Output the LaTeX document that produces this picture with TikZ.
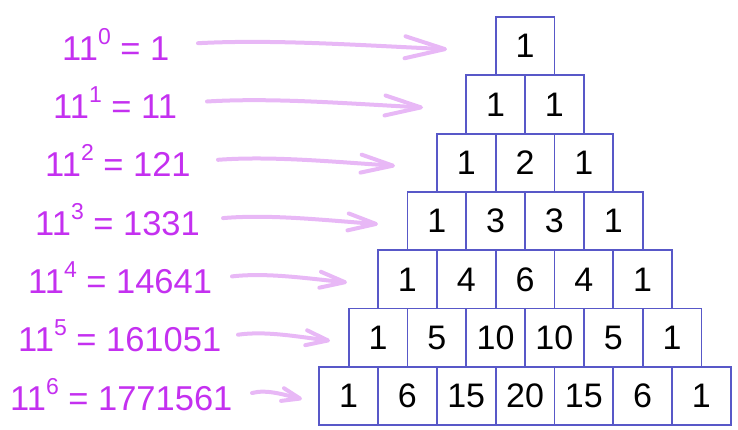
\documentclass[tikz,border=0pt]{standalone}
\usepackage{fontspec}
\setmainfont{Liberation Sans}
\usetikzlibrary{arrows.meta}
\definecolor{boxline}{RGB}{88,88,200}
\definecolor{labelcol}{RGB}{196,48,240}
\definecolor{arrowcol}{RGB}{232,184,246}
\tikzset{
  cell/.style={draw=boxline, line width=1.8pt, fill=white, minimum width=58.8pt,
    minimum height=58.3pt, inner sep=0pt, font=\fontsize{34}{40}\selectfont, text=black},
  powlabel/.style={anchor=base west, inner sep=0pt, text=labelcol,
    font=\fontsize{34.5}{40}\selectfont},
  bentarrow/.style n args={2}{draw=arrowcol, line width=4pt, line cap=round, line join=round,
    -{Straight Barb[length=#1, width=#2, round]}}
}
\begin{document}
\begin{tikzpicture}[x=1pt,y=-1pt]
\useasboundingbox (0,0) rectangle (738,429);
% Pascal triangle cells
\foreach \row/\vals in {0/{1},1/{1,1},2/{1,2,1},3/{1,3,3,1},4/{1,4,6,4,1},5/{1,5,10,10,5,1},6/{1,6,15,20,15,6,1}}{
  \foreach \v [count=\j from 0] in \vals {
    \node[cell] (r\row c\j) at ({525+(\j-\row/2)*58.8}, {46.2+\row*58.3}) {\v};
  }
}
% power labels
\foreach \i/\x/\res in {0/62/1,1/53/11,2/45/121,3/35/1331,4/28/14641,5/18/161051,6/10/1771561}{
  \node[powlabel] (L\i) at (\x, {46.2+\i*58.3+14}) {11\raisebox{16pt}{\fontsize{23}{23}\selectfont\i} = \res};
}
% arrows
\foreach \i/\sx/\ex/\hl/\hw in {0/198/447/40/22,1/207/423/36/20,2/218/395/32/18,3/223/378/28/17,4/232/347/25/16,5/238/330/22/15,6/252/302/18/13}{
  \coordinate (as\i) at (\sx, {46.2+\i*58.3-3});
  \coordinate (ae\i) at (\ex, {46.2+\i*58.3+3});
  \draw[bentarrow={\hl pt}{\hw pt}] (as\i) .. controls ({\sx+0.3*(\ex-\sx)}, {46.2+\i*58.3-7}) and ({\sx+0.65*(\ex-\sx)}, {46.2+\i*58.3-1}) .. (ae\i);
}
\end{tikzpicture}
\end{document}
